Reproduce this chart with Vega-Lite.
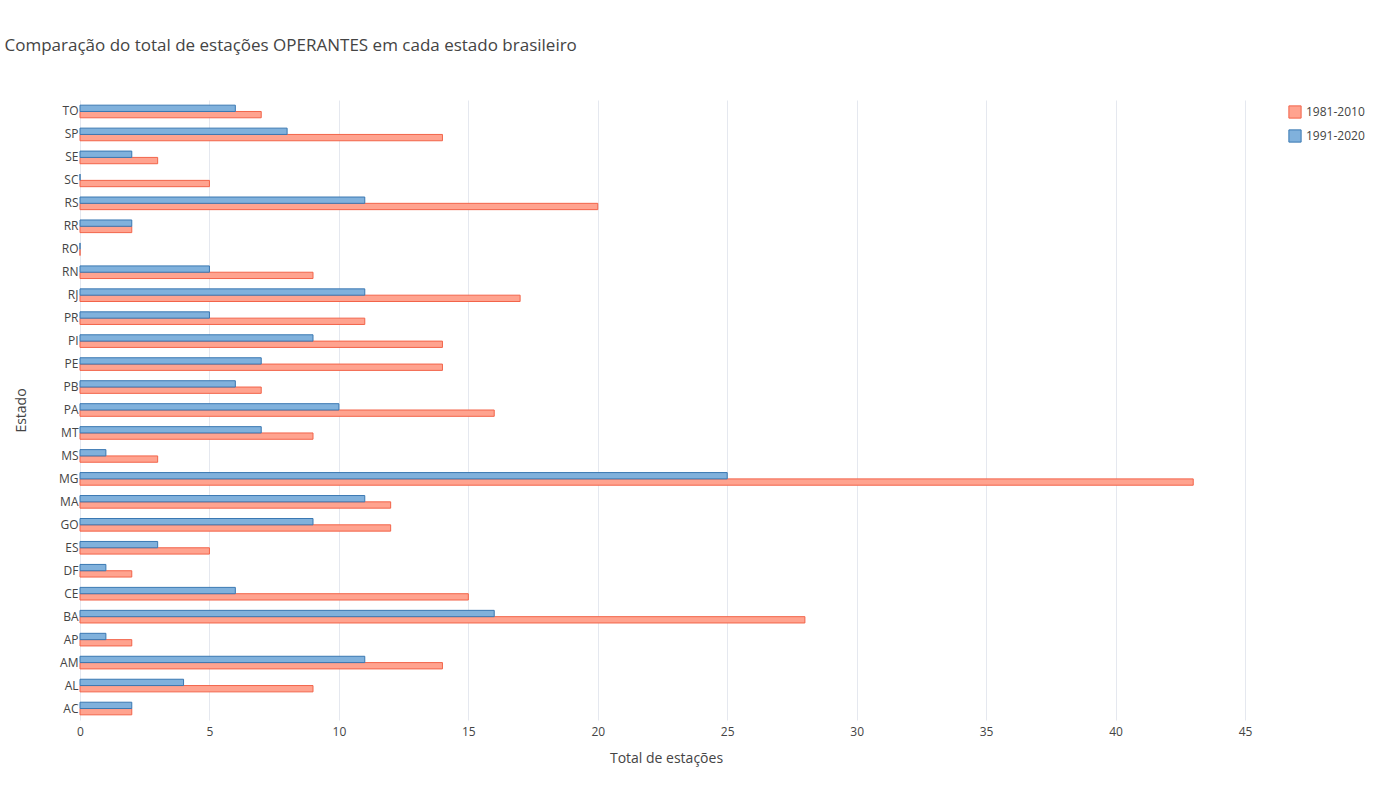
{
  "$schema": "https://vega.github.io/schema/vega-lite/v6.json",
  "width": 1172,
  "height": 620,
  "autosize": {"type": "none"},
  "padding": {"left": 80, "top": 100, "right": 148, "bottom": 80},
  "background": "white",
  "config": {
    "font": "Open Sans",
    "view": {"stroke": null},
    "axis": {"labelColor": "#444", "titleColor": "#444", "labelFontSize": 12, "titleFontSize": 14, "titleFontWeight": "normal", "gridColor": "#E5E8EF", "domain": false, "ticks": false}
  },
  "title": {"text": "Comparação do total de estações OPERANTES em cada estado brasileiro", "anchor": "start", "frame": "bounds", "dx": -10, "offset": 45, "fontSize": 17, "fontWeight": "normal", "color": "#444"},
  "data": {"values": [
    {"estado": "TO", "periodo": "1981-2010", "total": 7}, {"estado": "TO", "periodo": "1991-2020", "total": 6},
    {"estado": "SP", "periodo": "1981-2010", "total": 14}, {"estado": "SP", "periodo": "1991-2020", "total": 8},
    {"estado": "SE", "periodo": "1981-2010", "total": 3}, {"estado": "SE", "periodo": "1991-2020", "total": 2},
    {"estado": "SC", "periodo": "1981-2010", "total": 5}, {"estado": "SC", "periodo": "1991-2020", "total": 0},
    {"estado": "RS", "periodo": "1981-2010", "total": 20}, {"estado": "RS", "periodo": "1991-2020", "total": 11},
    {"estado": "RR", "periodo": "1981-2010", "total": 2}, {"estado": "RR", "periodo": "1991-2020", "total": 2},
    {"estado": "RO", "periodo": "1981-2010", "total": 0}, {"estado": "RO", "periodo": "1991-2020", "total": 0},
    {"estado": "RN", "periodo": "1981-2010", "total": 9}, {"estado": "RN", "periodo": "1991-2020", "total": 5},
    {"estado": "RJ", "periodo": "1981-2010", "total": 17}, {"estado": "RJ", "periodo": "1991-2020", "total": 11},
    {"estado": "PR", "periodo": "1981-2010", "total": 11}, {"estado": "PR", "periodo": "1991-2020", "total": 5},
    {"estado": "PI", "periodo": "1981-2010", "total": 14}, {"estado": "PI", "periodo": "1991-2020", "total": 9},
    {"estado": "PE", "periodo": "1981-2010", "total": 14}, {"estado": "PE", "periodo": "1991-2020", "total": 7},
    {"estado": "PB", "periodo": "1981-2010", "total": 7}, {"estado": "PB", "periodo": "1991-2020", "total": 6},
    {"estado": "PA", "periodo": "1981-2010", "total": 16}, {"estado": "PA", "periodo": "1991-2020", "total": 10},
    {"estado": "MT", "periodo": "1981-2010", "total": 9}, {"estado": "MT", "periodo": "1991-2020", "total": 7},
    {"estado": "MS", "periodo": "1981-2010", "total": 3}, {"estado": "MS", "periodo": "1991-2020", "total": 1},
    {"estado": "MG", "periodo": "1981-2010", "total": 43}, {"estado": "MG", "periodo": "1991-2020", "total": 25},
    {"estado": "MA", "periodo": "1981-2010", "total": 12}, {"estado": "MA", "periodo": "1991-2020", "total": 11},
    {"estado": "GO", "periodo": "1981-2010", "total": 12}, {"estado": "GO", "periodo": "1991-2020", "total": 9},
    {"estado": "ES", "periodo": "1981-2010", "total": 5}, {"estado": "ES", "periodo": "1991-2020", "total": 3},
    {"estado": "DF", "periodo": "1981-2010", "total": 2}, {"estado": "DF", "periodo": "1991-2020", "total": 1},
    {"estado": "CE", "periodo": "1981-2010", "total": 15}, {"estado": "CE", "periodo": "1991-2020", "total": 6},
    {"estado": "BA", "periodo": "1981-2010", "total": 28}, {"estado": "BA", "periodo": "1991-2020", "total": 16},
    {"estado": "AP", "periodo": "1981-2010", "total": 2}, {"estado": "AP", "periodo": "1991-2020", "total": 1},
    {"estado": "AM", "periodo": "1981-2010", "total": 14}, {"estado": "AM", "periodo": "1991-2020", "total": 11},
    {"estado": "AL", "periodo": "1981-2010", "total": 9}, {"estado": "AL", "periodo": "1991-2020", "total": 4},
    {"estado": "AC", "periodo": "1981-2010", "total": 2}, {"estado": "AC", "periodo": "1991-2020", "total": 2}
  ]},
  "mark": {"type": "bar", "strokeWidth": 1},
  "encoding": {
    "y": {"field": "estado", "type": "nominal", "sort": "descending", "title": "Estado",
      "scale": {"paddingInner": 0.45, "paddingOuter": 0.225},
      "axis": {"bandPosition": 0.5, "labelPadding": 2, "titlePadding": 30}},
    "yOffset": {"field": "periodo", "type": "nominal", "scale": {"domain": ["1991-2020", "1981-2010"], "paddingInner": 0}},
    "x": {"field": "total", "type": "quantitative", "title": "Total de estações",
      "scale": {"domain": [0, 45.27], "nice": false},
      "axis": {"values": [0, 5, 10, 15, 20, 25, 30, 35, 40, 45], "labelPadding": 6, "titlePadding": 14, "labelFlush": false}},
    "color": {"field": "periodo", "type": "nominal", "title": null,
      "scale": {"domain": ["1981-2010", "1991-2020"], "range": ["#FFA38F", "#80B1DC"]},
      "legend": {"orient": "none", "legendX": 1208, "legendY": 5, "symbolType": "square", "symbolSize": 150, "labelFontSize": 12, "labelColor": "#444", "symbolStrokeWidth": 1, "rowPadding": 6}},
    "stroke": {"field": "periodo", "type": "nominal",
      "scale": {"domain": ["1981-2010", "1991-2020"], "range": ["#F2644A", "#3A78B2"]}, "legend": null}
  }
}
